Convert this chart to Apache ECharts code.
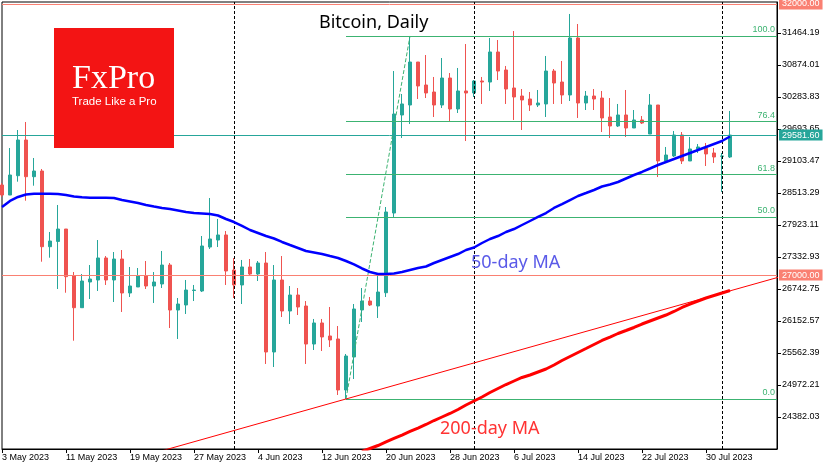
<!DOCTYPE html>
<html><head><meta charset="utf-8">
<script src="https://cdn.jsdelivr.net/npm/echarts@6/dist/echarts.min.js"></script>
<style>html,body{margin:0;padding:0;background:#fff}#c{width:835px;height:470px}</style>
</head><body><div id="c"></div>
<script>
// ---- data ----
const firstDate = '2023-05-03'; // consecutive daily candles from this date
const open = [28661,28476,28832,29491,28814,28919,27523,27620,27849,26988,
  26398,26872,26909,27315,26909,27296,26669,26780,26983,26798,
  26835,27185,26355,26448,26715,26706,27517,27646,27739,27093,
  26817,27149,27019,27222,25581,26909,26337,26632,26429,25728,
  26116,25876,25821,24880,25489,26356,26521,26429,26674,28144,
  29952,30136,30929,30505,30376,30136,30634,30063,30395,30358,
  30579,30560,31114,30782,30450,30302,30247,30136,30155,30763,
  30560,30321,31372,30173,30302,30265,29915,29749,29952,29712,
  29860,29601,30136,29104,29196,29583,29104,29325,29343,29251,
  29190,29177];
const close = [28476,28845,29491,28814,28919,27523,27628,27849,26970,26398,
  26890,26927,27315,26909,27296,26669,26798,26983,26798,26872,
  27185,26355,26466,26724,26724,27536,27665,27739,27075,26817,
  27149,27019,27222,25581,26909,26337,26632,26411,25728,26116,
  25858,25802,24880,25507,26374,26521,26448,26687,28163,29970,
  30155,30929,30487,30358,30136,30634,30063,30395,30358,30579,
  30560,31114,30763,30431,30284,30229,30136,30173,30763,30542,
  30321,31372,30173,30302,30247,29897,29749,29952,29712,29860,
  29804,30136,29104,29214,29583,29104,29325,29362,29233,29177,
  29196,29581.60];
const low = [28440,28476,28722,28371,28648,27246,27320,26743,26674,25789,
  26398,26558,26706,26817,26503,26319,26595,26780,26743,26485,
  26761,26023,25821,26282,26521,26687,27481,27517,26817,26577,
  26466,27001,26890,25360,25304,26226,26097,26263,25360,25618,
  25599,25673,24788,24714,25083,26134,26429,26208,26595,28071,
  29528,29786,30247,30265,29915,30081,29841,29989,29472,30284,
  30155,30395,30597,30155,29860,29675,30026,30099,29915,30155,
  30155,30210,29897,30044,30044,29638,29528,29730,29546,29712,
  29786,29601,28808,29104,29177,29048,29104,29251,29011,29067,
  28532,29159];
const high = [28698,29343,29675,29823,29159,28956,27794,28292,27849,27056,
  27019,27185,27646,27351,27425,27462,27149,27130,27259,27056,
  27444,27222,26577,26909,26817,27720,28421,28034,27812,27314,
  27278,27296,27259,27425,27185,27351,26798,26761,26521,26190,
  26190,26411,26060,25544,26466,26761,26595,26983,28255,30763,
  30339,31409,30929,31058,30653,31003,30726,30819,31261,30597,
  30653,31372,31335,30856,31501,30431,30376,30413,31040,30800,
  30948,31815,31630,30395,30431,30395,30265,30155,30413,30044,
  29933,30339,30136,29362,29657,29638,29546,29417,29436,29343,
  29251,30026];
const ma50 = [28255,28366,28440,28486,28500,28500,28500,28495,28476,28449,
  28434,28427,28427,28427,28421,28384,28357,28329,28292,28264,
  28237,28218,28191,28163,28144,28135,28126,28098,28034,27978,
  27905,27831,27776,27720,27674,27610,27554,27499,27444,27416,
  27388,27351,27315,27259,27195,27121,27056,27019,27019,27029,
  27056,27093,27130,27158,27222,27278,27333,27388,27462,27508,
  27591,27665,27720,27794,27849,27923,27997,28071,28144,28237,
  28310,28384,28458,28513,28569,28633,28670,28716,28781,28845,
  28901,28965,29030,29085,29140,29196,29251,29306,29362,29417,
  29472,29555];
const ma200Start = '2023-06-17';
const ma200 = [23746,23801,23856,23921,23986,24050,24115,24179,24244,24317,
  24382,24447,24520,24603,24677,24751,24834,24908,24981,25046,
  25111,25157,25212,25267,25341,25424,25498,25572,25645,25719,
  25793,25857,25922,25977,26033,26097,26153,26208,26263,26328,
  26402,26466,26521,26577,26623,26669,26715];
const trendDates = ['2023-05-23', '2023-08-09'];
const trendValues = [23759, 26999];
const fibLowDate = '2023-06-15', fibHighDate = '2023-06-23';
const fibLow = 24714, fibHigh = 31409;
const fibLevels = [0, 50, 61.8, 76.4, 100];
const priceLevels = [32000, 27000];
const lastPrice = 29581.60;
const monthStarts = ['2023-06-01', '2023-07-01', '2023-08-01'];
const xTickDates = ['2023-05-03','2023-05-11','2023-05-19','2023-05-27','2023-06-04','2023-06-12',
  '2023-06-20','2023-06-28','2023-07-06','2023-07-14','2023-07-22','2023-07-30'];
const yTicks = [24382.03,24972.21,25562.39,26152.57,26742.75,27332.93,27923.11,
  28513.29,29103.47,29693.65,30283.83,30874.01,31464.19];
const yRange = [23791.85, 32035.9];
const xRangeDays = 96.875;

// ---- helpers ----
const DAY = 864e5;
const t0 = Date.parse(firstDate + 'T00:00:00Z');
const idx = d => (Date.parse(d + 'T00:00:00Z') - t0) / DAY;
const MONTHS = ['Jan','Feb','Mar','Apr','May','Jun','Jul','Aug','Sep','Oct','Nov','Dec'];
const fmtDay = v => { const d = new Date(t0 + Math.round(v) * DAY); return d.getUTCDate() + ' ' + MONTHS[d.getUTCMonth()] + ' ' + d.getUTCFullYear(); };

const UP = '#26a69a', DOWN = '#ef5350', SALMON = '#fa8072', FIB = '#3cb371';
const FONT = 'Liberation Sans, Arial, sans-serif';

const candles = open.map((o, i) => [i, o, close[i], low[i], high[i]]);
const ma200i = idx(ma200Start);

function tag(bg, text) {
  return { show: true, position: 'end', distance: 2, formatter: text, color: '#fff',
    backgroundColor: bg, padding: [1, 3, 0, 3], fontSize: 9, fontFamily: FONT, lineHeight: 10 };
}

const chart = echarts.init(document.getElementById('c'), null, { renderer: 'canvas' });
chart.setOption({
  animation: false,
  backgroundColor: '#fff',
  grid: { left: 2, right: 58, top: 2, bottom: 21, show: true, borderColor: '#000', borderWidth: 1,
          backgroundColor: 'transparent', outerBoundsMode: 'none', containLabel: false },
  xAxis: {
    type: 'value', min: 0, max: xRangeDays,
    axisLine: { show: true, onZero: false, lineStyle: { color: '#000', width: 1 } },
    axisTick: { show: true, length: 4, inside: false, lineStyle: { color: '#000' },
                customValues: xTickDates.map(idx) },
    axisLabel: { show: true, customValues: xTickDates.map(idx), formatter: fmtDay,
                 align: 'left', margin: 4, fontSize: 9, fontFamily: FONT, color: '#000' },
    splitLine: { show: false }
  },
  yAxis: {
    type: 'value', position: 'right', min: yRange[0], max: yRange[1],
    axisLine: { show: true, onZero: false, lineStyle: { color: '#000', width: 1 } },
    axisTick: { show: true, length: 4, inside: false, lineStyle: { color: '#000' }, customValues: yTicks },
    axisLabel: { show: true, customValues: yTicks, formatter: v => v.toFixed(2),
                 margin: 5, fontSize: 9, fontFamily: FONT, color: '#000' },
    splitLine: { show: false }
  },
  series: [
    {
      type: 'candlestick', data: candles, barWidth: 4, clip: true, z: 3,
      encode: { x: 0, y: [1, 2, 3, 4] },
      itemStyle: { color: UP, color0: DOWN, borderColor: UP, borderColor0: DOWN, borderWidth: 1 },
      markLine: {
        silent: true, symbol: ['none', 'none'], animation: false,
        data: [
          ...monthStarts.map(d => ({ xAxis: idx(d), lineStyle: { color: '#000', type: [3, 2], width: 1 }, label: { show: false } })),
          { yAxis: priceLevels[0], lineStyle: { color: SALMON, type: 'solid', width: 1 }, label: tag(SALMON, priceLevels[0].toFixed(2)) },
          { yAxis: priceLevels[1], lineStyle: { color: SALMON, type: 'solid', width: 1 }, label: tag(SALMON, priceLevels[1].toFixed(2)) },
          { yAxis: lastPrice, lineStyle: { color: UP, type: 'solid', width: 1 }, label: tag(UP, lastPrice.toFixed(2)) }
        ]
      }
    },
    {
      type: 'line', data: [[idx(fibLowDate), fibLow], [idx(fibHighDate), fibHigh]], z: 4,
      showSymbol: false, symbol: 'none', lineStyle: { color: FIB, width: 1, type: [4, 2] },
      markLine: {
        silent: true, symbol: ['none', 'none'], animation: false,
        data: fibLevels.map(l => {
          const v = fibLow + (fibHigh - fibLow) * l / 100;
          return [
            { coord: [idx(fibLowDate), v], lineStyle: { color: FIB, type: 'solid', width: 1 },
              label: { show: true, position: 'insideEndTop', formatter: l.toFixed(1), color: FIB,
                       fontSize: 9, fontFamily: FONT, distance: [2, 2] } },
            { coord: [xRangeDays, v] }
          ];
        })
      }
    },
    {
      type: 'line', data: trendDates.map((d, i) => [idx(d), trendValues[i]]), z: 5,
      showSymbol: false, symbol: 'none', lineStyle: { color: '#ff0000', width: 1 }
    },
    {
      type: 'line', data: ma200.map((v, i) => [ma200i + i, v]), z: 6,
      showSymbol: false, symbol: 'none', lineStyle: { color: '#ff0000', width: 3 }
    },
    {
      type: 'line', data: ma50.map((v, i) => [i, v]), z: 7,
      showSymbol: false, symbol: 'none', lineStyle: { color: '#0000ff', width: 2.5 }
    }
  ],
  graphic: [
    { type: 'rect', shape: { x: 54, y: 28, width: 120, height: 120 }, style: { fill: '#f31414' }, z: 100 },
    { type: 'text', x: 72, y: 79.5, z: 101, style: { text: 'FxPro', fill: '#fff', font: '34px "Liberation Serif", serif', align: 'left', verticalAlign: 'middle' } },
    { type: 'text', x: 72, y: 102.3, z: 101, style: { text: 'Trade Like a Pro', fill: '#fff', font: '11.5px "Liberation Sans", Arial, sans-serif', align: 'left', verticalAlign: 'middle' } },
    { type: 'text', x: 319, y: 22.7, z: 101, style: { text: 'Bitcoin, Daily', fill: '#000', font: '18px "Noto Sans", sans-serif', align: 'left', verticalAlign: 'middle' } },
    { type: 'text', x: 471, y: 263, z: 101, style: { text: '50-day MA', fill: '#5a5ae8', font: '18px "Noto Sans", sans-serif', align: 'left', verticalAlign: 'middle' } },
    { type: 'text', x: 440, y: 429, z: 101, style: { text: '200-day MA', fill: '#ff3333', font: '18px "Noto Sans", sans-serif', align: 'left', verticalAlign: 'middle' } }
  ]
});
</script></body></html>
